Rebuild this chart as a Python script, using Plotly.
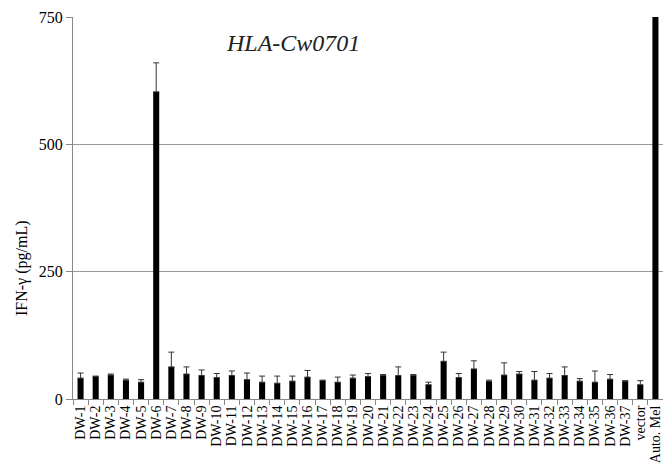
import plotly.graph_objects as go

categories = [f"DW-{i}" for i in range(1, 38)] + ["vector", "Auto. Mel"]
values = [41, 44, 47, 37, 33, 603, 63, 49, 46, 42,
          46, 38, 33, 31, 35, 43, 36, 33, 41, 44,
          46, 46, 46, 28, 74, 42, 59, 35, 47, 49,
          37, 41, 46, 35, 33, 39, 35, 28, 780]
errors = [10, 1, 2, 2, 5, 57, 29, 14, 11, 8,
          9, 13, 12, 14, 10, 13, 1, 10, 6, 6,
          2, 17, 2, 5, 18, 8, 16, 2, 24, 5,
          17, 9, 17, 5, 22, 9, 1, 8, 0]
y_ticks = [0, 250, 500, 750]

serif = "'Liberation Serif', 'DejaVu Serif', serif"

fig = go.Figure()
fig.add_trace(go.Bar(
    x=categories, y=values,
    marker=dict(color="black", line=dict(width=0)),
    error_y=dict(type="data", symmetric=False, array=errors,
                 arrayminus=[0] * len(errors),
                 color="#333333", thickness=1, width=3),
))

fig.update_layout(
    width=663, height=466,
    margin=dict(l=73, r=0, t=17, b=67),
    paper_bgcolor="white", plot_bgcolor="white",
    bargap=0.6, showlegend=False,
    font=dict(family=serif, size=15, color="black"),
    xaxis=dict(
        type="category", tickmode="array", tickvals=categories,
        ticktext=categories, tickangle=-90, ticks="outside",
        tickson="boundaries", ticklen=5, tickcolor="#888888",
        showline=True, linecolor="#888888", linewidth=1, showgrid=False,
        automargin=False, tickfont=dict(family=serif, size=14, color="black"),
    ),
    yaxis=dict(
        range=[0, 750], tickvals=y_ticks, ticks="outside", ticklen=6,
        tickcolor="#888888", showline=True, linecolor="#888888", linewidth=1,
        showgrid=True, gridcolor="#9a9a9a", gridwidth=1, zeroline=False,
        automargin=False, tickfont=dict(family=serif, size=16, color="black"),
    ),
    annotations=[
        dict(text="<i>HLA-Cw0701</i>", xref="paper", yref="paper",
             x=(293 - 73) / 590, y=(399 - 43) / 382, showarrow=False,
             font=dict(family=serif, size=24, color="#222222"),
             xanchor="center", yanchor="middle"),
        dict(text="IFN-γ (pg/mL)", xref="paper", yref="paper",
             x=(22 - 73) / 590, y=(399 - 268) / 382, showarrow=False,
             textangle=-90, font=dict(family=serif, size=16, color="black"),
             xanchor="center", yanchor="middle"),
    ],
)

fig.write_html("out.html")
